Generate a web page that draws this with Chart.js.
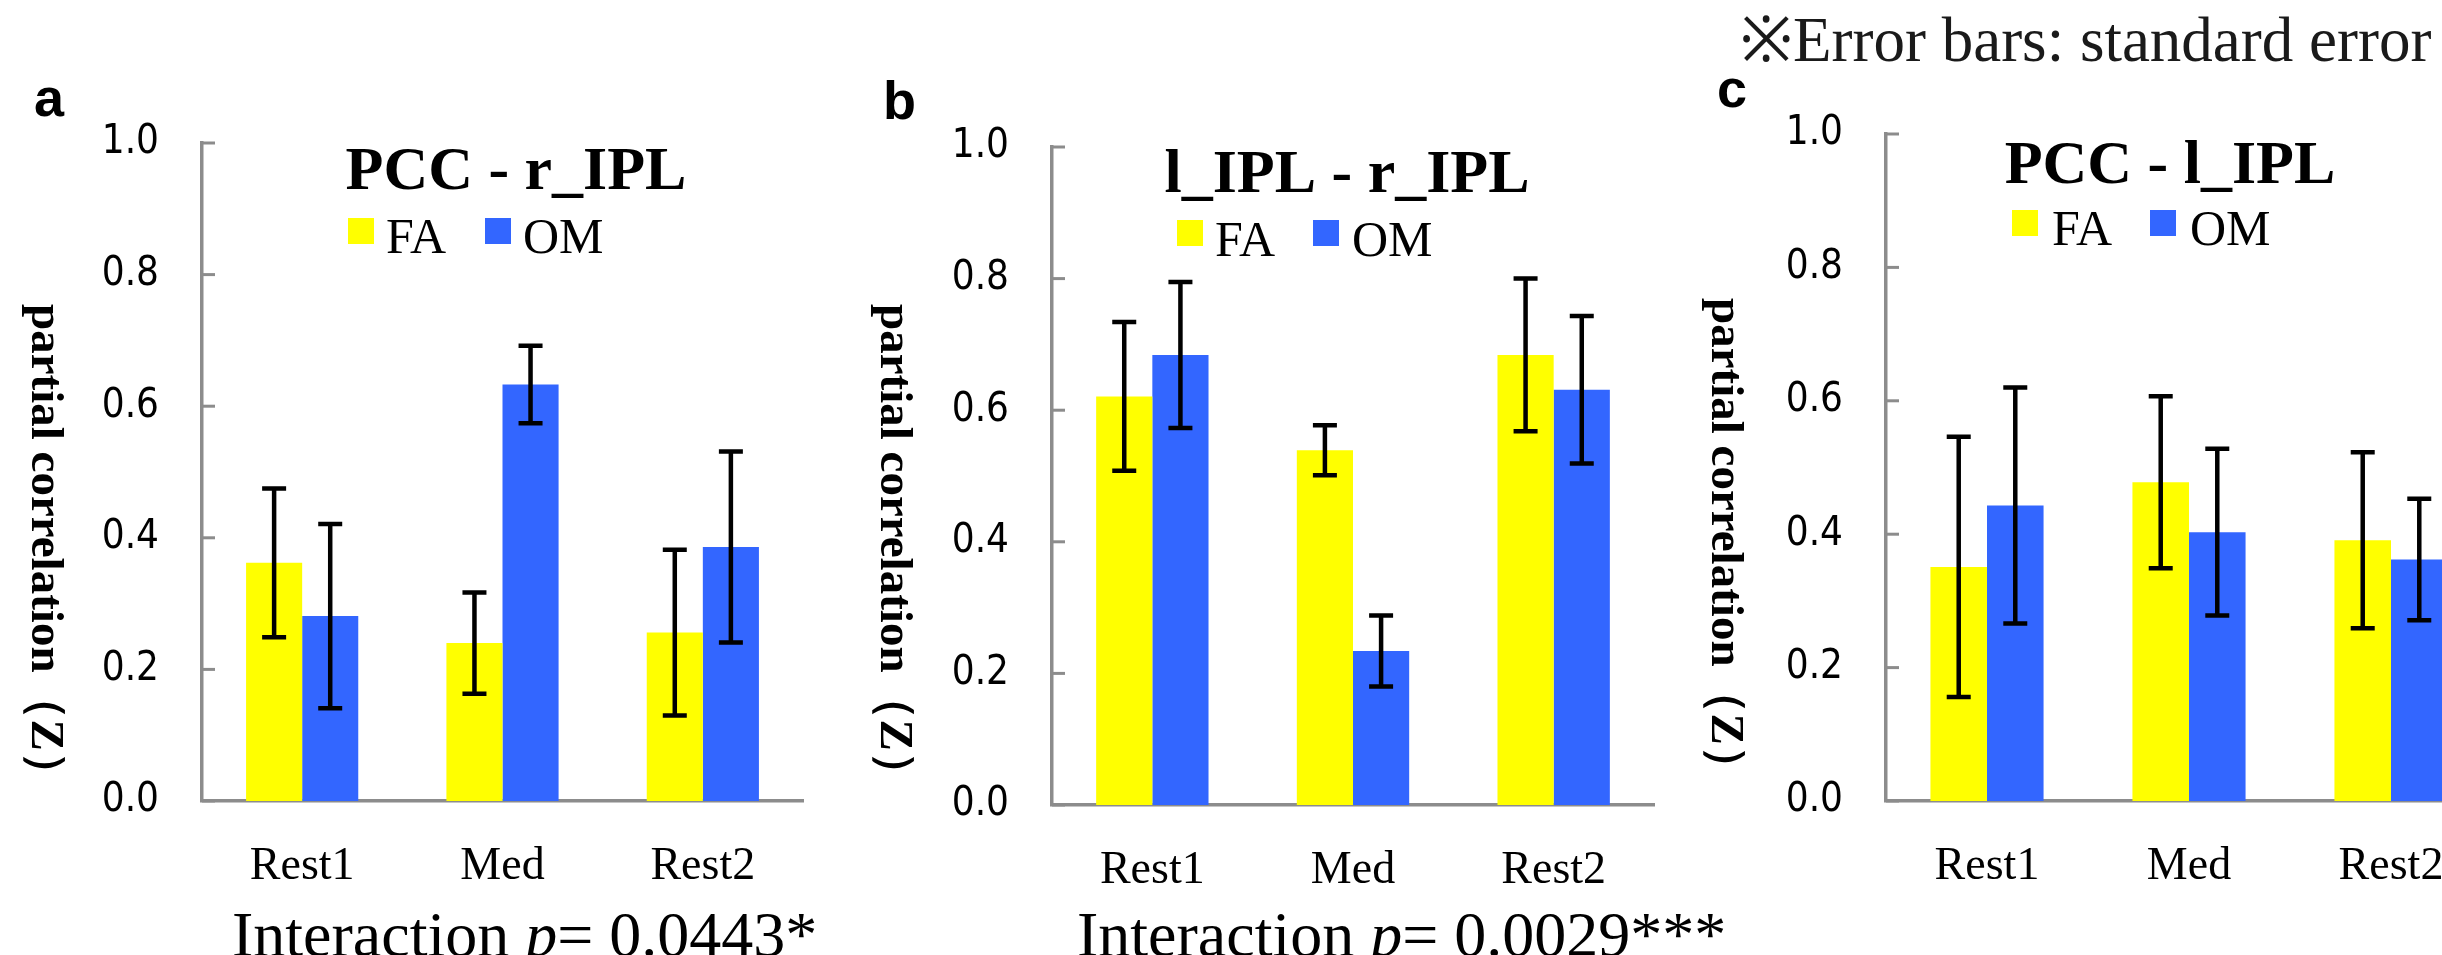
<!DOCTYPE html>
<html>
<head>
<meta charset="utf-8">
<script src="https://cdn.jsdelivr.net/npm/chart.js@4.4.1/dist/chart.umd.min.js"></script>
<style>
  html, body { margin: 0; padding: 0; background: #fff; overflow: hidden; }
  body { width: 2442px; height: 955px; position: relative; }
  canvas { position: absolute; left: 0; top: 0; }
</style>
</head>
<body>
<canvas id="chartA" width="2442" height="955"></canvas>
<canvas id="chartB" width="2442" height="955"></canvas>
<canvas id="chartC" width="2520" height="955"></canvas>
<script>
const categories = ['Rest1', 'Med', 'Rest2'];
const groupNames = ['FA', 'OM'];
const yTickLabels = ['0.0', '0.2', '0.4', '0.6', '0.8', '1.0'];

// a: PCC - r_IPL
const pccRightFA = [0.362, 0.240, 0.256];
const pccRightOM = [0.281, 0.633, 0.386];
const pccRightFASE = [0.113, 0.077, 0.126];
const pccRightOMSE = [0.140, 0.059, 0.145];

// b: l_IPL - r_IPL
const iplIplFA = [0.621, 0.539, 0.684];
const iplIplOM = [0.684, 0.234, 0.631];
const iplIplFASE = [0.113, 0.038, 0.116];
const iplIplOMSE = [0.111, 0.054, 0.112];

// c: PCC - l_IPL
const pccLeftFA = [0.351, 0.478, 0.391];
const pccLeftOM = [0.443, 0.403, 0.362];
const pccLeftFASE = [0.195, 0.129, 0.132];
const pccLeftOMSE = [0.177, 0.125, 0.091];

const yellow = '#FFFF00';
const blue = '#3366FF';
const axisGray = '#8c8c8c';
const serif = '"Liberation Serif", "Times New Roman", serif';

// draws everything Chart.js has no slot for: error bars, inner ticks, texts
const decor = {
    id: 'decor',
    afterDatasetsDraw(chart, args, o) {
        const ctx = chart.ctx;
        const y = chart.scales.y;
        ctx.save();
        ctx.strokeStyle = '#000';
        ctx.lineWidth = 4.5;
        chart.data.datasets.forEach((ds, i) => {
            chart.getDatasetMeta(i).data.forEach((bar, j) => {
                const hi = y.getPixelForValue(ds.data[j] + ds.se[j]);
                const lo = y.getPixelForValue(ds.data[j] - ds.se[j]);
                ctx.beginPath();
                ctx.moveTo(bar.x, hi); ctx.lineTo(bar.x, lo);
                ctx.moveTo(bar.x - 12, hi); ctx.lineTo(bar.x + 12, hi);
                ctx.moveTo(bar.x - 12, lo); ctx.lineTo(bar.x + 12, lo);
                ctx.stroke();
            });
        });
        ctx.restore();
    },
    afterDraw(chart, args, o) {
        const ctx = chart.ctx;
        const area = chart.chartArea;
        const y = chart.scales.y;
        ctx.save();

        // short tick marks pointing into the plot
        ctx.strokeStyle = axisGray;
        ctx.lineWidth = 3;
        y.ticks.forEach(t => {
            const py = y.getPixelForValue(t.value);
            ctx.beginPath();
            ctx.moveTo(area.left, py);
            ctx.lineTo(area.left + 13, py);
            ctx.stroke();
        });

        ctx.fillStyle = '#000';
        ctx.textBaseline = 'alphabetic';

        // panel letter
        ctx.font = 'bold 54px "Liberation Sans", Arial, sans-serif';
        ctx.textAlign = 'left';
        ctx.fillText(o.letter, o.letterX, o.letterY);

        // title
        ctx.font = 'bold 62px ' + serif;
        ctx.textAlign = 'center';
        ctx.fillText(o.title, o.titleX, o.titleY);

        // legend
        ctx.textAlign = 'left';
        ctx.font = '50px ' + serif;
        chart.data.datasets.forEach((ds, i) => {
            ctx.fillStyle = ds.backgroundColor;
            ctx.fillRect(o.legendBoxX[i], o.legendBoxY, 26, 26);
            ctx.fillStyle = '#000';
            ctx.fillText(ds.label, o.legendTextX[i], o.legendTextY);
        });

        // y axis title, reading top to bottom
        ctx.save();
        ctx.translate(o.yTitleX, o.yTitleY);
        ctx.rotate(Math.PI / 2);
        ctx.font = 'bold 47px ' + serif;
        ctx.textAlign = 'left';
        ctx.fillText('partial correlation（Z）', 0, 0);
        ctx.restore();

        // interaction line
        if (o.pValue) {
            let x = o.pX;
            ctx.textAlign = 'left';
            ctx.font = '64px ' + serif;
            ctx.fillText('Interaction ', x, o.pY);
            x += ctx.measureText('Interaction ').width;
            ctx.font = 'italic 64px ' + serif;
            ctx.fillText('p', x, o.pY);
            x += ctx.measureText('p').width;
            ctx.font = '64px ' + serif;
            ctx.fillText('= ' + o.pValue, x, o.pY);
        }

        if (o.note) {
            ctx.textAlign = 'left';
            ctx.fillStyle = '#1a1a1a';
            ctx.font = '63px ' + serif;
            ctx.fillText(o.note, o.noteX, o.noteY);
        }
        ctx.restore();
    }
};

function makePanel(id, canvasWidth, box, faValues, omValues, faSE, omSE, deco) {
    new Chart(document.getElementById(id), {
        type: 'bar',
        data: {
            labels: categories,
            datasets: [
                { label: groupNames[0], data: faValues, se: faSE, backgroundColor: yellow },
                { label: groupNames[1], data: omValues, se: omSE, backgroundColor: blue },
            ],
        },
        options: {
            responsive: false,
            animation: false,
            devicePixelRatio: 1,
            categoryPercentage: 0.56,
            barPercentage: 1.0,
            layout: {
                padding: { left: 0, top: box.top, right: canvasWidth - box.right, bottom: 0 },
            },
            plugins: {
                legend: { display: false },
                tooltip: { enabled: false },
                decor: deco,
            },
            scales: {
                x: {
                    grid: { display: false, drawTicks: false },
                    border: { display: true, color: axisGray, width: 3.5 },
                    ticks: {
                        color: '#000',
                        padding: 38,
                        font: { family: serif, size: 46 },
                    },
                    afterFit: (scale) => { scale.height = 955 - box.bottom; },
                },
                y: {
                    min: 0,
                    max: 1,
                    grid: { display: false, drawTicks: false },
                    border: { display: true, color: axisGray, width: 3.5 },
                    ticks: {
                        stepSize: 0.2,
                        color: '#000',
                        padding: 43,
                        font: { family: '"DejaVu Sans Condensed", "DejaVu Sans", sans-serif', size: 40 },
                        callback: (value, index) => yTickLabels[index],
                    },
                    afterFit: (scale) => { scale.width = box.left; },
                },
            },
        },
        plugins: [decor],
    });
}

makePanel('chartA', 2442, { left: 202, right: 803, top: 143, bottom: 801 },
    pccRightFA, pccRightOM, pccRightFASE, pccRightOMSE, {
        letter: 'a', letterX: 34, letterY: 116,
        title: 'PCC - r_IPL', titleX: 516, titleY: 189,
        legendBoxX: [348, 485], legendBoxY: 218, legendTextX: [386, 523], legendTextY: 253,
        yTitleX: 32, yTitleY: 304,
        pValue: '0.0443*', pX: 232, pY: 956,
    });

makePanel('chartB', 2442, { left: 1052, right: 1654, top: 147, bottom: 805 },
    iplIplFA, iplIplOM, iplIplFASE, iplIplOMSE, {
        letter: 'b', letterX: 883, letterY: 119,
        title: 'l_IPL - r_IPL', titleX: 1347, titleY: 192,
        legendBoxX: [1177, 1313], legendBoxY: 220, legendTextX: [1215, 1352], legendTextY: 256,
        yTitleX: 881, yTitleY: 304,
        pValue: '0.0029***', pX: 1077, pY: 956,
    });

makePanel('chartC', 2520, { left: 1886, right: 2492, top: 134, bottom: 801 },
    pccLeftFA, pccLeftOM, pccLeftFASE, pccLeftOMSE, {
        letter: 'c', letterX: 1717, letterY: 107,
        title: 'PCC - l_IPL', titleX: 2170, titleY: 183,
        legendBoxX: [2012, 2150], legendBoxY: 210, legendTextX: [2052, 2190], legendTextY: 245,
        yTitleX: 1712, yTitleY: 298,
        note: '※Error bars: standard error', noteX: 1740, noteY: 61,
    });
</script>
</body>
</html>
